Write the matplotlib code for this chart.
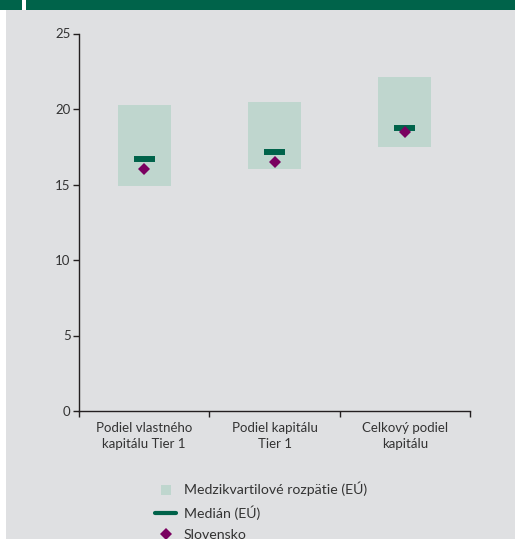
import matplotlib
matplotlib.use("Agg")
import matplotlib.pyplot as plt
from matplotlib.patches import Rectangle
from matplotlib.lines import Line2D

# Capital ratios: EU interquartile range, EU median and Slovakia
categories = ["Podiel vlastného\nkapitálu Tier 1", "Podiel kapitálu\nTier 1", "Celkový podiel\nkapitálu"]
q1 = [14.92, 16.03, 17.48]
q3 = [20.26, 20.48, 22.14]
median_eu = [16.69, 17.15, 18.74]
slovakia = [16.03, 16.49, 18.48]
yticks = [0, 5, 10, 15, 20, 25]
legend_labels = ["Medzikvartilové rozpätie (EÚ)", "Medián (EÚ)", "Slovensko"]

BOX = "#bfd6ce"
GREEN = "#00634a"
PURPLE = "#7a0060"
BG = "#dfe0e2"
TXT = "#333333"
AXC = "#231f20"

plt.rcParams["font.family"] = ["Lato", "DejaVu Sans"]

W, H = 515, 539
fig = plt.figure(figsize=(W / 100, H / 100), dpi=100, facecolor="white")

# panel background and header band
fig.patches.append(Rectangle((6 / W, 0), 1 - 6 / W, 1 - 10 / H, transform=fig.transFigure,
                             facecolor=BG, edgecolor="none", zorder=-10))
fig.patches.append(Rectangle((0, 1 - 10 / H), 1, 10 / H, transform=fig.transFigure,
                             facecolor=GREEN, edgecolor="none", zorder=-10))
fig.patches.append(Rectangle((22 / W, 1 - 10 / H), 4 / W, 10 / H, transform=fig.transFigure,
                             facecolor="white", edgecolor="none", zorder=-9))

ax = fig.add_axes([79 / W, 1 - 411 / H, (470 - 79) / W, (411 - 33.5) / H])
ax.set_facecolor("none")

x = [i + 0.5 for i in range(len(categories))]
heights = [b - a for a, b in zip(q1, q3)]
ax.bar(x, heights, bottom=q1, width=0.407, color=BOX, edgecolor="none", zorder=1)
ax.hlines(median_eu, [v - 0.08 for v in x], [v + 0.08 for v in x], colors=GREEN,
          linewidth=4.3, capstyle="butt", zorder=2)
ax.plot(x, slovakia, linestyle="none", marker="D", markersize=6.3, color=PURPLE,
        markeredgewidth=0, zorder=3)

ax.set_xlim(0, 3)
ax.set_ylim(0, 25)
ax.set_yticks(yticks)
ax.set_xticks([0, 1, 2, 3])
ax.set_xticklabels([])
ax.set_xticks(x, minor=True)
ax.set_xticklabels(categories, minor=True, fontsize=9.5, color=TXT, linespacing=1.35)
ax.tick_params(axis="x", which="minor", length=0, pad=8)
ax.tick_params(axis="x", which="major", length=4, width=1, color=AXC, direction="out")
ax.tick_params(axis="y", length=4, width=1, color=AXC, labelsize=9.5, labelcolor=TXT, pad=2)
for s in ["top", "right"]:
    ax.spines[s].set_visible(False)
for s in ["left", "bottom"]:
    ax.spines[s].set_color(AXC)
    ax.spines[s].set_linewidth(1)

handles = [
    Line2D([], [], linestyle="none", marker="s", markersize=7.2, color=BOX, markeredgewidth=0),
    Line2D([], [], color=GREEN, linewidth=3.0, solid_capstyle="round"),
    Line2D([], [], linestyle="none", marker="D", markersize=6.3, color=PURPLE, markeredgewidth=0),
]
leg = fig.legend(handles, legend_labels, loc="upper left", bbox_to_anchor=(155 / W, 1 - 482 / H),
                 frameon=False, fontsize=10.2, labelspacing=0.64, handlelength=1.5,
                 handletextpad=0.55, borderpad=0, borderaxespad=0)
for t in leg.get_texts():
    t.set_color(TXT)

fig.savefig("out.png", dpi=100, facecolor=fig.get_facecolor())
